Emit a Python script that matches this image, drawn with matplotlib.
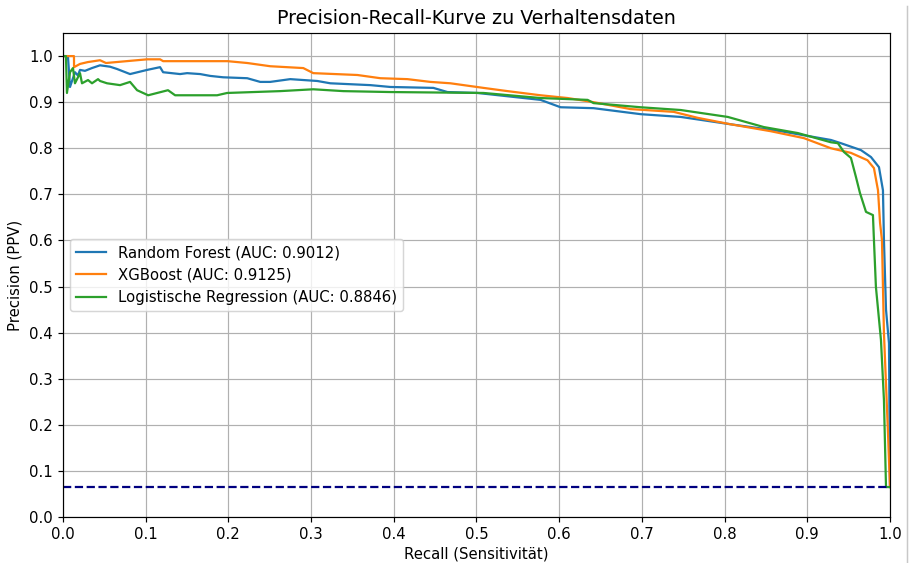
import matplotlib.pyplot as plt
from matplotlib.lines import Line2D

# Precision-recall points
rf_recall = [0.0, 0.006, 0.0085, 0.0145, 0.018, 0.0206, 0.0266, 0.035, 0.0448, 0.0569,
             0.0654, 0.0811, 0.1017, 0.1174, 0.1211, 0.1416, 0.1501, 0.1659, 0.178, 0.1937,
             0.2228, 0.2385, 0.2506, 0.2748, 0.3075, 0.3232, 0.3717, 0.3959, 0.4479, 0.4649,
             0.5012, 0.5775, 0.6017, 0.6416, 0.6985, 0.747, 0.8075, 0.868, 0.9286, 0.9407,
             0.9649, 0.977, 0.9867, 0.9915, 0.9927, 0.9952, 0.9988, 1.0]
rf_prec = [1.0, 1.0, 0.933, 0.965, 0.958, 0.970, 0.968, 0.974, 0.980, 0.977,
           0.972, 0.961, 0.970, 0.976, 0.965, 0.961, 0.963, 0.961, 0.957, 0.954,
           0.952, 0.944, 0.944, 0.950, 0.946, 0.941, 0.937, 0.933, 0.931, 0.922,
           0.920, 0.905, 0.889, 0.887, 0.874, 0.868, 0.852, 0.837, 0.818, 0.811,
           0.796, 0.781, 0.759, 0.709, 0.601, 0.45, 0.377, 0.065]

xgb_recall = [0.0, 0.0133, 0.0134, 0.0206, 0.030, 0.0448, 0.052, 0.1017, 0.1174, 0.1211,
              0.199, 0.2228, 0.2506, 0.2906, 0.3027, 0.3559, 0.3838, 0.4165, 0.4443, 0.4685,
              0.5085, 0.5375, 0.5775, 0.6102, 0.6416, 0.6864, 0.7385, 0.7676, 0.8075, 0.8559,
              0.8959, 0.9286, 0.9528, 0.9728, 0.9806, 0.9855, 0.988, 0.9903, 0.9927, 0.9976,
              1.0]
xgb_prec = [1.0, 1.0, 0.976, 0.983, 0.987, 0.991, 0.985, 0.993, 0.993, 0.989,
            0.989, 0.985, 0.978, 0.974, 0.963, 0.959, 0.952, 0.950, 0.944, 0.941,
            0.931, 0.924, 0.915, 0.909, 0.900, 0.885, 0.879, 0.866, 0.852, 0.837,
            0.822, 0.800, 0.790, 0.774, 0.757, 0.709, 0.638, 0.601, 0.399, 0.182,
            0.065]

lr_recall = [0.0, 0.0036, 0.0048, 0.0085, 0.0121, 0.0145, 0.0206, 0.023, 0.0303, 0.0351,
             0.0424, 0.0448, 0.0533, 0.069, 0.0811, 0.0896, 0.0969, 0.103, 0.127, 0.1356,
             0.157, 0.1864, 0.1985, 0.2627, 0.3027, 0.339, 0.3959, 0.5085, 0.5775, 0.6344,
             0.6416, 0.6985, 0.747, 0.8039, 0.8475, 0.8886, 0.9286, 0.937, 0.9443, 0.9528,
             0.9588, 0.9637, 0.971, 0.9794, 0.9806, 0.983, 0.9891, 0.9927, 0.9952, 1.0]
lr_prec = [1.0, 1.0, 0.920, 0.965, 0.974, 0.941, 0.963, 0.941, 0.948, 0.941,
           0.950, 0.946, 0.941, 0.937, 0.944, 0.926, 0.920, 0.915, 0.926, 0.915,
           0.915, 0.915, 0.920, 0.924, 0.928, 0.924, 0.922, 0.920, 0.909, 0.905,
           0.898, 0.889, 0.883, 0.868, 0.846, 0.833, 0.813, 0.811, 0.792, 0.779,
           0.738, 0.703, 0.662, 0.655, 0.601, 0.499, 0.384, 0.254, 0.065, 0.065]

model_labels = ["Random Forest (AUC: 0.9012)", "XGBoost (AUC: 0.9125)",
                "Logistische Regression (AUC: 0.8846)"]
baseline = 0.065

dpi = 107
fig = plt.figure(figsize=(910 / dpi, 563 / dpi), dpi=dpi)
ax = fig.add_axes([0.0692, 0.0817, 0.9088, 0.8596])

ax.plot(rf_recall, rf_prec, color="tab:blue", lw=1.5, label=model_labels[0])
ax.plot(xgb_recall, xgb_prec, color="tab:orange", lw=1.5, label=model_labels[1])
ax.plot(lr_recall, lr_prec, color="tab:green", lw=1.5, label=model_labels[2])
ax.axhline(baseline, color="navy", lw=1.5, ls="--")

ax.set_xlim(0, 1.0)
ax.set_ylim(0, 1.05)
ax.set_xticks([i / 10 for i in range(11)])
ax.set_yticks([i / 10 for i in range(11)])
ax.grid(True)
ax.set_xlabel("Recall (Sensitivität)", labelpad=3)
ax.set_ylabel("Precision (PPV)")
ax.set_title("Precision-Recall-Kurve zu Verhaltensdaten", fontsize=12.8)
ax.legend(loc="center left")

# thin border line at the right edge of the screenshot
fig.add_artist(Line2D([0.997, 0.997], [0.0, 0.99], transform=fig.transFigure,
                      color="#c8c8c8", lw=1))

fig.savefig("out.png", dpi=dpi)
